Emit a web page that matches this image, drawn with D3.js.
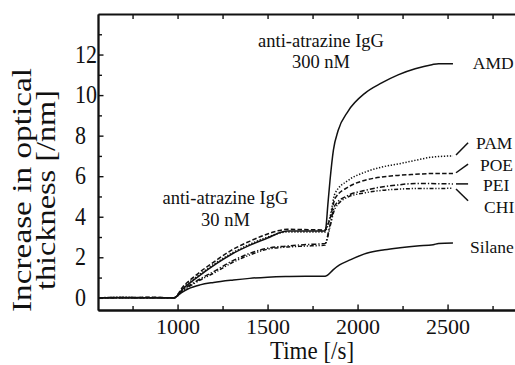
<!DOCTYPE html>
<html>
<head>
<meta charset="utf-8">
<script src="https://cdn.jsdelivr.net/npm/d3@7"></script>
<style>
  body { margin: 0; background: #fff; }
  svg text { font-family: "Liberation Serif", "Times New Roman", serif; fill: #111; }
</style>
</head>
<body>
<svg id="chart" width="515" height="365"></svg>
<script>
// time [s] / optical thickness [nm]
const tAMD = [560, 700, 850, 980, 1030, 1100, 1218, 1300, 1403, 1500, 1580, 1610, 1820, 1824, 1835, 1847, 1866, 1892, 1947, 2042, 2134, 2225, 2320, 2413, 2450, 2530];
const vAMD = [0, 0.02, 0, 0, 0.45, 0.95, 1.7, 2.15, 2.6, 2.95, 3.25, 3.3, 3.3, 3.45, 4.6, 5.8, 7.3, 8.25, 9.2, 10.1, 10.6, 11.0, 11.3, 11.5, 11.55, 11.55];

const tPAM = [560, 700, 850, 980, 1030, 1100, 1218, 1300, 1403, 1500, 1580, 1610, 1820, 1826, 1847, 1875, 1949, 2042, 2134, 2225, 2320, 2413, 2530];
const vPAM = [0, 0.03, 0, 0, 0.5, 1.0, 1.75, 2.2, 2.65, 3.0, 3.22, 3.25, 3.25, 3.35, 4.0, 5.15, 5.8, 6.2, 6.45, 6.6, 6.78, 6.94, 7.0];

const tPOE = [560, 700, 850, 980, 1030, 1100, 1218, 1300, 1403, 1500, 1580, 1610, 1820, 1826, 1847, 1875, 1949, 2042, 2134, 2225, 2320, 2413, 2530];
const vPOE = [0, 0, 0.03, 0, 0.55, 1.1, 1.87, 2.35, 2.8, 3.15, 3.35, 3.38, 3.35, 3.45, 3.9, 4.9, 5.47, 5.8, 5.96, 6.04, 6.09, 6.13, 6.13];

const tPEI = [560, 700, 850, 980, 1030, 1100, 1218, 1300, 1403, 1500, 1600, 1700, 1820, 1826, 1847, 1875, 1949, 2042, 2134, 2225, 2320, 2530];
const vPEI = [0, 0.02, 0, 0, 0.4, 0.8, 1.38, 1.8, 2.2, 2.45, 2.55, 2.62, 2.68, 2.8, 3.6, 4.57, 5.06, 5.3, 5.47, 5.57, 5.64, 5.62];

const tCHI = [560, 700, 850, 980, 1030, 1100, 1218, 1300, 1403, 1500, 1600, 1700, 1820, 1826, 1847, 1875, 1949, 2042, 2134, 2225, 2320, 2530];
const vCHI = [0, 0, 0.02, 0, 0.35, 0.75, 1.3, 1.72, 2.12, 2.4, 2.5, 2.55, 2.6, 2.72, 3.5, 4.41, 4.98, 5.18, 5.3, 5.36, 5.39, 5.4];

const tSilane = [560, 700, 850, 980, 1020, 1060, 1125, 1200, 1310, 1400, 1500, 1600, 1820, 1830, 1864, 1900, 1958, 2050, 2150, 2236, 2330, 2420, 2450, 2530];
const vSilane = [0, 0.01, 0, 0, 0.25, 0.45, 0.64, 0.76, 0.88, 0.96, 1.02, 1.05, 1.07, 1.1, 1.38, 1.62, 1.87, 2.2, 2.37, 2.47, 2.56, 2.62, 2.68, 2.7];

const seriesNames = ["AMD", "PAM", "POE", "PEI", "CHI", "Silane"];
const seriesTimes = [tAMD, tPAM, tPOE, tPEI, tCHI, tSilane];
const seriesValues = [vAMD, vPAM, vPOE, vPEI, vCHI, vSilane];
const seriesDash = [null, "1.3,1.7", "4.5,2.2", "5,2,1.3,2", "4,1.8,1.2,1.8,1.2,1.8", null];

// label anchors (time, value) and leader segments, in data units
const labelTimes = [2640, 2658, 2680, 2697, 2703, 2625];
const labelValues = [11.59, 7.64, 6.55, 5.57, 4.48, 2.51];
const leaders = [
  [[2547, 7.05], [2614, 7.65]],
  [[2547, 6.17], [2614, 6.59]],
  [[2547, 5.62], [2614, 5.62]],
  [[2547, 5.37], [2614, 4.79]],
];

const yMajor = [0, 2, 4, 6, 8, 10, 12];
const yMinor = [1, 3, 5, 7, 9, 11, 13];
const xMajor = [1000, 1500, 2000, 2500];
const xMinor = [750, 1250, 1750, 2250, 2750];

// text is drawn a bit taller than wide, like the scanned figure
const sy = 1.1;

const svg = d3.select("#chart");

const margin = { left: 98, top: 14, bottom: 310 };
const xScale = d3.scaleLinear().domain([558, 3000]).range([margin.left, margin.left + (3000 - 558) * 0.18]);
const yScale = d3.scaleLinear().domain([-0.6, 14]).range([margin.bottom, margin.top]);

// Lines
const line = d3
  .line()
  .x((d) => xScale(d[0]))
  .y((d) => yScale(d[1]))
  .curve(d3.curveMonotoneX);

seriesNames.forEach((name, i) => {
  const pts = seriesTimes[i].map((t, j) => [t, seriesValues[i][j]]);
  svg
    .append("path")
    .datum(pts)
    .attr("fill", "none")
    .attr("stroke", "#111")
    .attr("stroke-width", 1.5)
    .attr("stroke-dasharray", seriesDash[i])
    .attr("d", line);
});

// Axes (ticks point inwards on all sides)
const frameWidth = 1.8;

const bottomAxis = svg
  .append("g")
  .attr("transform", `translate(0, ${margin.bottom})`)
  .call(d3.axisBottom(xScale).tickValues(xMajor).tickSizeInner(-5.5).tickSizeOuter(0).tickFormat(d3.format("d")));
svg
  .append("g")
  .attr("transform", `translate(0, ${margin.bottom})`)
  .call(d3.axisBottom(xScale).tickValues(xMinor).tickSizeInner(-4).tickSizeOuter(0).tickFormat(""));

svg
  .append("g")
  .attr("transform", `translate(0, ${margin.top})`)
  .call(d3.axisTop(xScale).tickValues(xMajor.concat(xMinor)).tickSizeInner(-5).tickSizeOuter(0).tickFormat(""));

const leftAxis = svg
  .append("g")
  .attr("transform", `translate(${margin.left}, 0)`)
  .call(d3.axisLeft(yScale).tickValues(yMajor).tickSizeInner(-5.5).tickSizeOuter(0));
svg
  .append("g")
  .attr("transform", `translate(${margin.left}, 0)`)
  .call(d3.axisLeft(yScale).tickValues(yMinor).tickSizeInner(-4).tickSizeOuter(0).tickFormat(""));

svg.selectAll(".domain").attr("stroke", "#111").attr("stroke-width", frameWidth);
svg.selectAll(".tick line").attr("stroke", "#111").attr("stroke-width", 1.4);

// tick labels: y ones are left-aligned
bottomAxis
  .selectAll("text")
  .attr("y", null)
  .attr("dy", null)
  .attr("transform", "translate(0, 24)")
  .style("font-size", "22px")
  .attr("fill", "#111");

leftAxis
  .selectAll("text")
  .attr("x", null)
  .attr("dy", null)
  .attr("text-anchor", "start")
  .attr("transform", `translate(-23, 7.5) scale(1, ${sy})`)
  .style("font-size", "22px")
  .attr("fill", "#111");

// Axis titles
svg
  .append("text")
  .attr("text-anchor", "middle")
  .attr("transform", `translate(312, 359) scale(1, ${sy})`)
  .style("font-size", "23px")
  .text("Time [/s]");

const yTitle = ["Increase in optical", "thickness [/nm]"];
const yTitleLength = [244, 200];
yTitle.forEach((str, i) => {
  svg
    .append("text")
    .attr("text-anchor", "middle")
    .attr("transform", `translate(${31 + i * 24}, 190) rotate(-90)`)
    .attr("textLength", yTitleLength[i])
    .attr("lengthAdjust", "spacingAndGlyphs")
    .style("font-size", "27px")
    .text(str);
});

// Annotations
const notes = [
  { t: 1797, v: 12.37, text: "anti-atrazine IgG" },
  { t: 1797, v: 11.34, text: "300 nM" },
  { t: 1266, v: 4.63, text: "anti-atrazine IgG" },
  { t: 1266, v: 3.54, text: "30 nM" },
];
notes.forEach((n) => {
  svg
    .append("text")
    .attr("text-anchor", "middle")
    .attr("x", xScale(n.t))
    .attr("y", yScale(n.v))
    .style("font-size", "18.5px")
    .text(n.text);
});

// Series labels + leader ticks
seriesNames.forEach((name, i) => {
  svg
    .append("text")
    .attr("x", xScale(labelTimes[i]))
    .attr("y", yScale(labelValues[i]))
    .attr("dy", "0.35em")
    .style("font-size", "17.5px")
    .text(name);
});

leaders.forEach((seg) => {
  svg
    .append("line")
    .attr("x1", xScale(seg[0][0]))
    .attr("y1", yScale(seg[0][1]))
    .attr("x2", xScale(seg[1][0]))
    .attr("y2", yScale(seg[1][1]))
    .attr("stroke", "#111")
    .attr("stroke-width", 1.5);
});
</script>
</body>
</html>
